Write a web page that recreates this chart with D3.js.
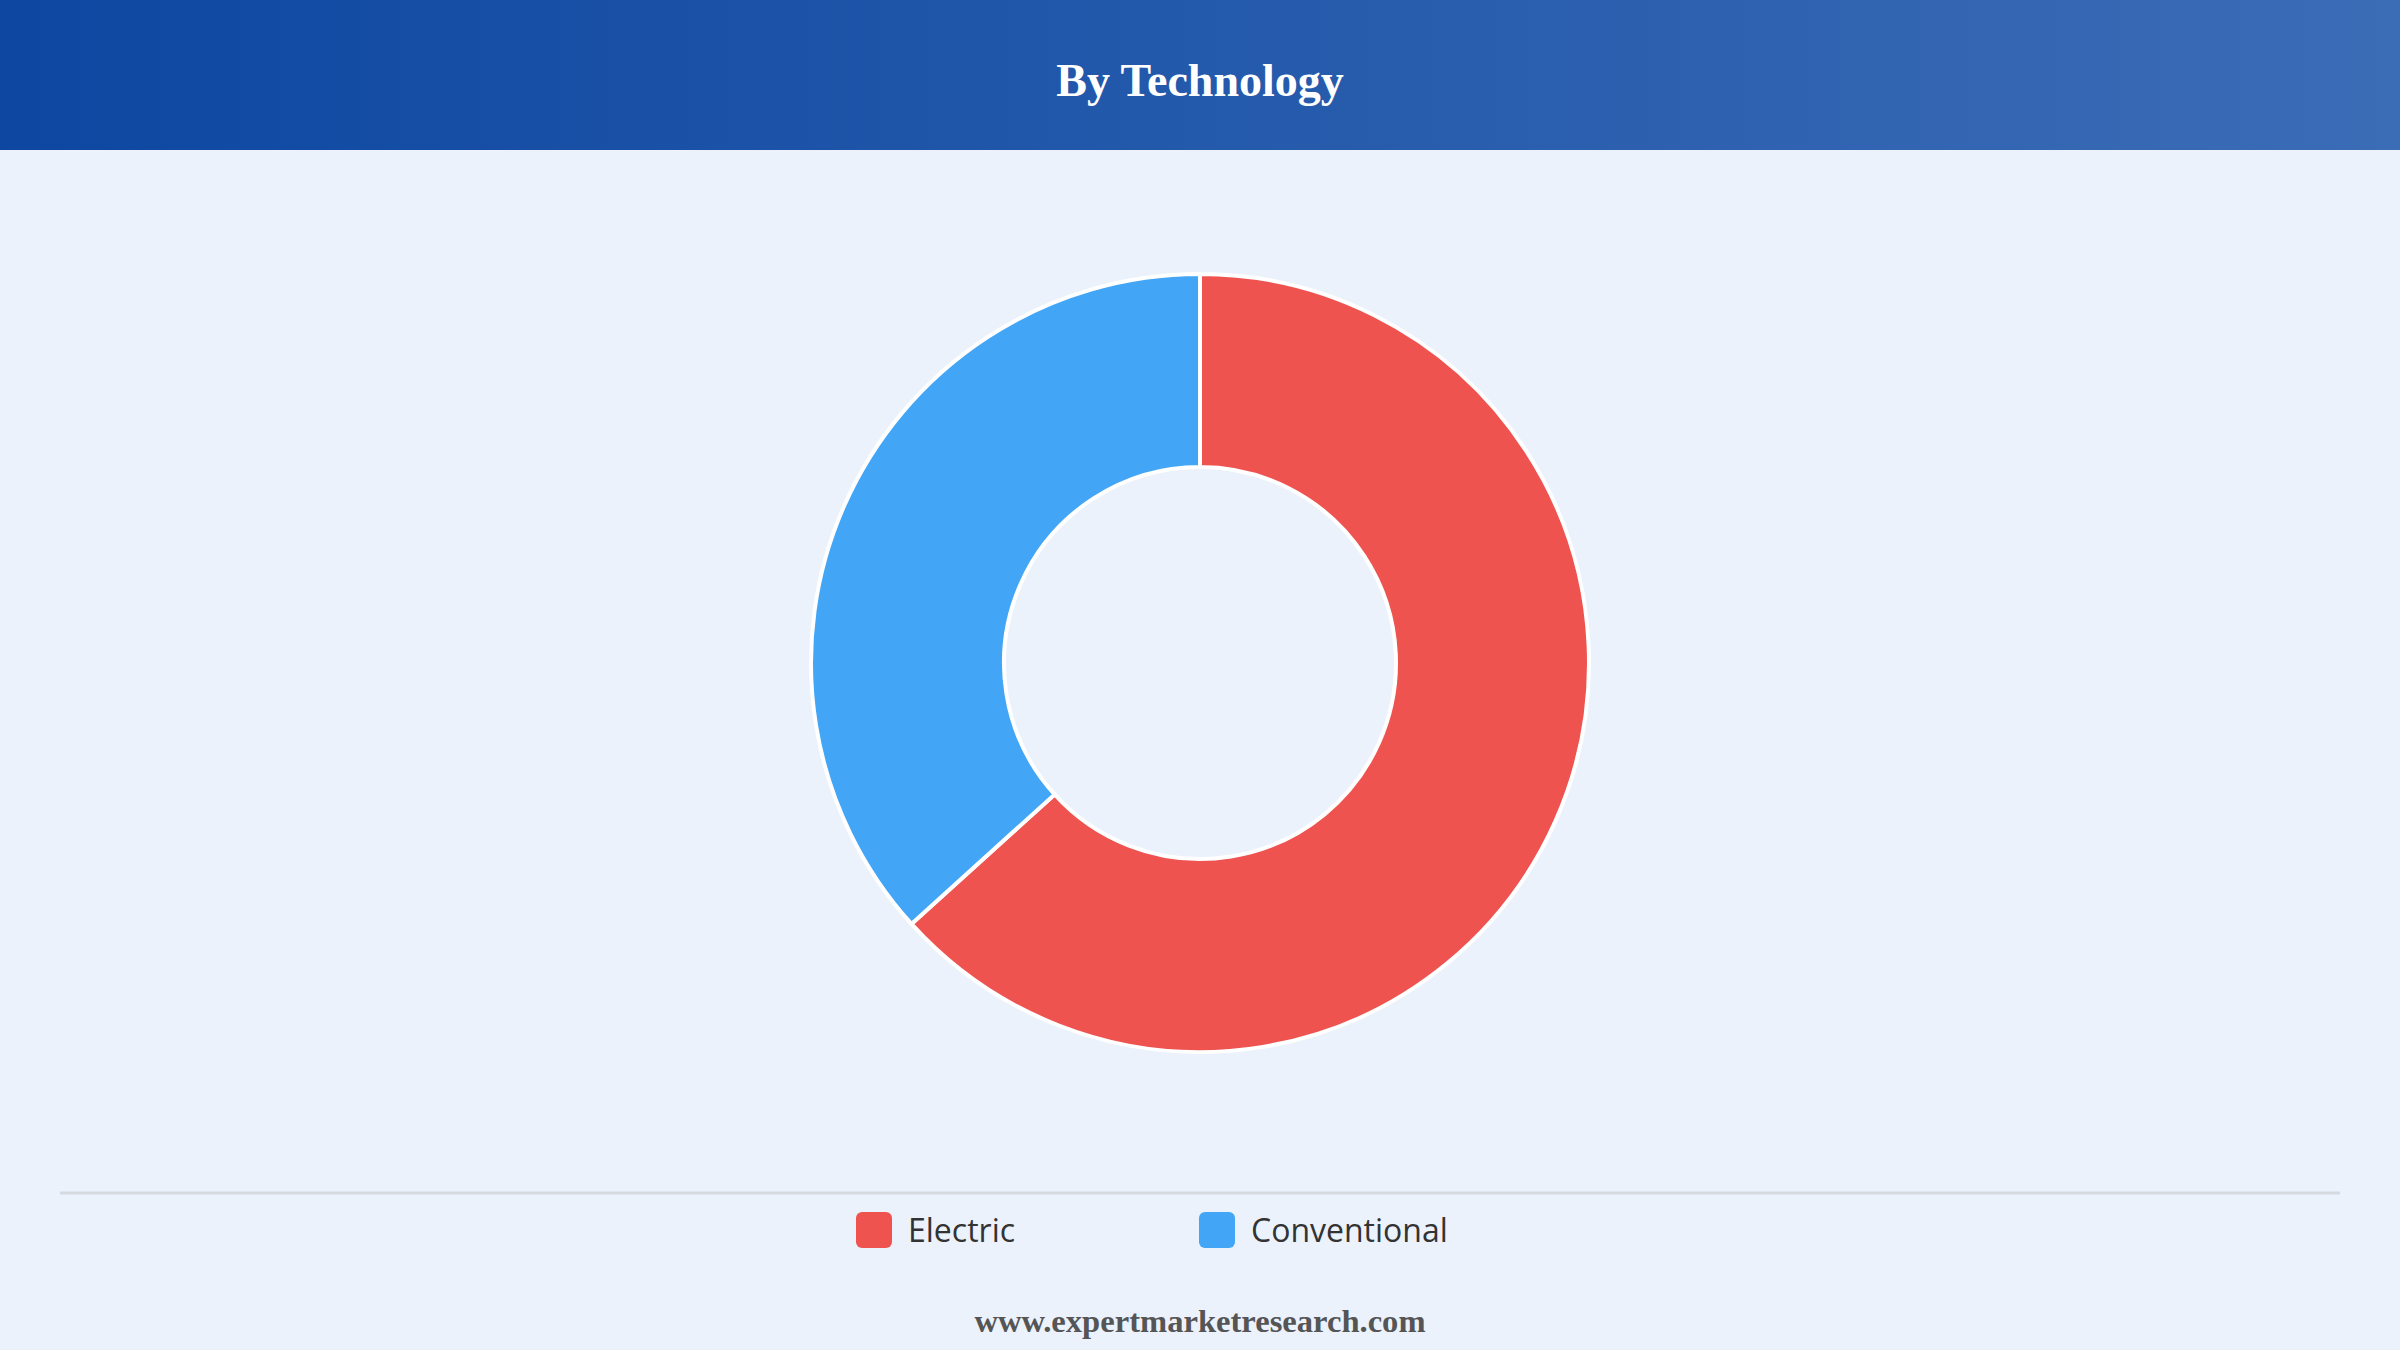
<!DOCTYPE html>
<html><head><meta charset="utf-8">
<script src="https://cdn.jsdelivr.net/npm/d3@7"></script>
<style>body{margin:0;background:#ebf2fc;}svg{display:block}</style>
</head><body>
<svg id="c" width="2400" height="1350"></svg>
<script>
const categories = ["Electric", "Conventional"];
const values = [63.3, 36.7];
const colors = ["#ef5350", "#42a5f5"];
const title = "By Technology";
const footer = "www.expertmarketresearch.com";

const svg = d3.select("#c");
const defs = svg.append("defs");
const g = defs.append("linearGradient").attr("id","hg");
g.append("stop").attr("offset","0%").attr("stop-color","#0d47a1");
g.append("stop").attr("offset","100%").attr("stop-color","#3b6cb6");
svg.append("rect").attr("width",2400).attr("height",1350).attr("fill","#ebf2fc");
svg.append("rect").attr("width",2400).attr("height",150).attr("fill","url(#hg)");
svg.append("text").attr("x",1200).attr("y",96).attr("text-anchor","middle")
  .attr("font-family","Liberation Serif, serif").attr("font-weight","bold")
  .attr("font-size",46).attr("fill","#fff").text(title);

const pie = d3.pie().sort(null).value(d=>d)(values);
const arc = d3.arc().innerRadius(196).outerRadius(389);
svg.append("g").attr("transform","translate(1200,663)")
  .selectAll("path").data(pie).join("path")
  .attr("d",arc).attr("fill",(d,i)=>colors[i])
  .attr("stroke","#fff").attr("stroke-width",4);

svg.append("line").attr("x1",60).attr("x2",2340).attr("y1",1193).attr("y2",1193)
  .attr("stroke","#d6d9de").attr("stroke-width",3);
const lx = [856, 1199];
categories.forEach((c,i)=>{
  svg.append("rect").attr("x",lx[i]).attr("y",1212).attr("width",36).attr("height",36)
    .attr("rx",6).attr("fill",colors[i]);
  svg.append("text").attr("x",lx[i]+52).attr("y",1242)
    .attr("font-family","Open Sans, sans-serif").attr("font-size",32).attr("fill","#333").text(c);
});
svg.append("text").attr("x",1200).attr("y",1332).attr("text-anchor","middle")
  .attr("font-family","Liberation Serif, serif").attr("font-weight","bold")
  .attr("font-size",32.6).attr("fill","#555").text(footer);
</script>
</body></html>
